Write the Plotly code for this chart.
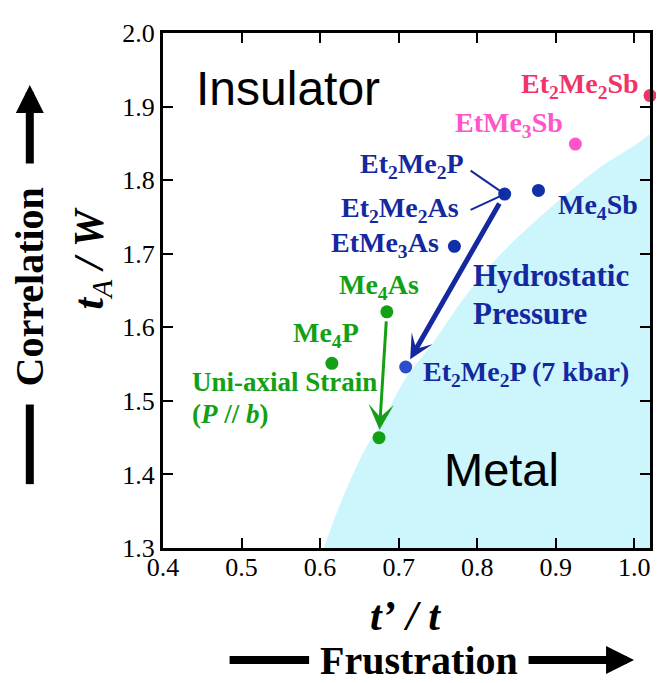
import plotly.graph_objects as go

# ---------------- data ----------------
# blue family (ambient pressure): Et2Me2P/Et2Me2As, Me4Sb, EtMe3As
blue_names = ["Et2Me2P / Et2Me2As", "Me4Sb", "EtMe3As"]
blue_x = [0.835, 0.878, 0.771]
blue_y = [1.781, 1.786, 1.710]

# Et2Me2P under 7 kbar hydrostatic pressure
press_names = ["Et2Me2P (7 kbar)"]
press_x = [0.709]
press_y = [1.546]

# green family: Me4As, Me4P, Me4As under uniaxial strain
green_names = ["Me4As", "Me4P", "Me4As (strain)"]
green_x = [0.685, 0.615, 0.675]
green_y = [1.621, 1.551, 1.450]

# Sb salts
pink_names = ["EtMe3Sb"]
pink_x = [0.925]
pink_y = [1.849]
red_names = ["Et2Me2Sb"]
red_x = [1.020]
red_y = [1.915]

# insulator / metal boundary
boundary_x = [0.605, 0.629, 0.658, 0.679, 0.709, 0.744, 0.785, 0.828, 0.871, 0.913, 0.956, 0.999, 1.020]
boundary_y = [1.300, 1.368, 1.435, 1.471, 1.530, 1.579, 1.642, 1.697, 1.741, 1.780, 1.817, 1.846, 1.862]

x_ticks = [0.4, 0.5, 0.6, 0.7, 0.8, 0.9, 1.0]
x_ticklabels = ["0.4", "0.5", "0.6", "0.7", "0.8", "0.9", "1.0"]
y_ticks = [1.3, 1.4, 1.5, 1.6, 1.7, 1.8, 1.9, 2.0]
y_ticklabels = ["1.3", "1.4", "1.5", "1.6", "1.7", "1.8", "1.9", "2.0"]

# ---------------- styles ----------------
BLUE = "#1428a0"
BLUE_PT = "#1030a8"
BLUE_LIGHT = "#2a4fc8"
GREEN = "#14a014"
PINK = "#ff55c8"
RED = "#f03468"
CYAN = "#cdf5fc"
SERIF = "Liberation Serif, Times New Roman, serif"
SANS = "Liberation Sans, Arial, sans-serif"
MS = 13

fig = go.Figure()

# metal region
fig.add_trace(go.Scatter(x=boundary_x, y=boundary_y, mode="lines",
                         line=dict(color=CYAN, width=0.5, shape="spline"),
                         fill="tozeroy", fillcolor=CYAN, hoverinfo="skip",
                         showlegend=False))

for xs, ys, col, names in [(blue_x, blue_y, BLUE_PT, blue_names),
                           (press_x, press_y, BLUE_LIGHT, press_names),
                           (green_x, green_y, GREEN, green_names),
                           (pink_x, pink_y, PINK, pink_names),
                           (red_x, red_y, RED, red_names)]:
    fig.add_trace(go.Scatter(x=xs, y=ys, mode="markers", text=names,
                             marker=dict(size=MS, color=col),
                             cliponaxis=False, showlegend=False))

annotations = []

def label(x, y, text, color, xanchor, size=28, family=SERIF, bold=True):
    t = f"<b>{text}</b>" if bold else text
    annotations.append(dict(x=x, y=y, xref="x", yref="y", text=t, showarrow=False,
                            xanchor=xanchor, yanchor="middle",
                            font=dict(family=family, size=size, color=color)))

label(1.0088, 1.928, "Et<sub>2</sub>Me<sub>2</sub>Sb", RED, "right")
label(0.9116, 1.876, "EtMe<sub>3</sub>Sb", PINK, "right")
label(0.7853, 1.820, "Et<sub>2</sub>Me<sub>2</sub>P", BLUE, "right")
label(0.7790, 1.760, "Et<sub>2</sub>Me<sub>2</sub>As", BLUE, "right")
label(0.7537, 1.712, "EtMe<sub>3</sub>As", BLUE, "right")
label(0.9000, 1.764, "Me<sub>4</sub>Sb", BLUE, "left")
label(0.6750, 1.656, "Me<sub>4</sub>As", GREEN, "center")
label(0.6070, 1.590, "Me<sub>4</sub>P", GREEN, "center")
label(0.4340, 1.526, "Uni-axial Strain", GREEN, "left", size=27)
label(0.4340, 1.482, "(<i>P</i> // <i>b</i>)", GREEN, "left", size=27)
label(0.7916, 1.670, "Hydrostatic", BLUE, "left", size=31)
label(0.7916, 1.619, "Pressure", BLUE, "left", size=31)
label(0.7280, 1.537, "Et<sub>2</sub>Me<sub>2</sub>P (7 kbar)", BLUE, "left")
label(0.4400, 1.924, "Insulator", "black", "left", size=48, family=SANS, bold=False)
label(0.7550, 1.407, "Metal", "black", "left", size=47, family=SANS, bold=False)

# hydrostatic pressure arrow
annotations.append(dict(x=press_x[0], y=press_y[0], ax=blue_x[0], ay=blue_y[0],
                        xref="x", yref="y", axref="x", ayref="y", text="",
                        showarrow=True, arrowhead=3, arrowwidth=5, arrowsize=0.8,
                        arrowcolor=BLUE, standoff=9, startstandoff=9))
# uniaxial strain arrow
annotations.append(dict(x=green_x[2], y=green_y[2], ax=green_x[0], ay=green_y[0],
                        xref="x", yref="y", axref="x", ayref="y", text="",
                        showarrow=True, arrowhead=3, arrowwidth=3, arrowsize=1.4,
                        arrowcolor=GREEN, standoff=8, startstandoff=8))

# axis titles
annotations.append(dict(x=-0.1449, y=0.563, xref="paper", yref="paper", showarrow=False,
                        textangle=-90, xanchor="center", yanchor="middle",
                        text="<b><i>t</i></b><sub><i>A</i></sub><b><i>&nbsp;/&nbsp;W</i></b>",
                        font=dict(family=SERIF, size=42, color="black")))
annotations.append(dict(x=0.498, y=-0.1330, xref="paper", yref="paper", showarrow=False,
                        xanchor="center", yanchor="middle",
                        text="<b><i>t’&nbsp;/&nbsp;t</i></b>",
                        font=dict(family=SERIF, size=42, color="black")))
annotations.append(dict(x=-0.2735, y=0.5076, xref="paper", yref="paper", showarrow=False,
                        textangle=-90, xanchor="center", yanchor="middle",
                        text="<b>Correlation</b>",
                        font=dict(family=SERIF, size=40, color="black")))
annotations.append(dict(x=0.5265, y=-0.2176, xref="paper", yref="paper", showarrow=False,
                        xanchor="center", yanchor="middle",
                        text="<b>Frustration</b>",
                        font=dict(family=SERIF, size=40, color="black")))
# up arrow (correlation)
annotations.append(dict(x=-0.2735, y=0.8989, xref="paper", yref="paper", text="",
                        showarrow=True, ax=0, ay=80, arrowhead=2, arrowwidth=8,
                        arrowsize=0.7, arrowcolor="black"))
# right arrow (frustration)
annotations.append(dict(x=0.9673, y=-0.2176, xref="paper", yref="paper", text="",
                        showarrow=True, ax=-107, ay=0, arrowhead=2, arrowwidth=8,
                        arrowsize=0.7, arrowcolor="black"))

shapes = [
    # leader lines to the Et2Me2P / Et2Me2As point
    dict(type="line", xref="x", yref="y", x0=0.7916, y0=1.813, x1=blue_x[0], y1=blue_y[0],
         line=dict(color=BLUE, width=2)),
    dict(type="line", xref="x", yref="y", x0=0.7916, y0=1.7596, x1=blue_x[0], y1=blue_y[0],
         line=dict(color=BLUE, width=2)),
    # bar below "Correlation"
    dict(type="line", xref="paper", yref="paper", x0=-0.2735, x1=-0.2735, y0=0.2786, y1=0.124,
         line=dict(color="black", width=8)),
    # bar left of "Frustration"
    dict(type="line", xref="paper", yref="paper", x0=0.1367, x1=0.30, y0=-0.2176, y1=-0.2176,
         line=dict(color="black", width=8)),
]

axis_common = dict(showgrid=False, zeroline=False, showline=True, linecolor="black",
                   linewidth=3, mirror="ticks", ticks="inside", ticklen=10, tickwidth=1.5,
                   tickcolor="black", tickfont=dict(family=SERIF, size=26, color="black"))

# the page body adds an 8 px margin, so the figure is 8 px smaller than the window
fig.update_layout(
    width=656, height=675,
    margin=dict(l=155, r=11, t=16, b=135),
    paper_bgcolor="white", plot_bgcolor="white",
    xaxis=dict(range=[0.4, 1.02], tickvals=x_ticks, ticktext=x_ticklabels,
               ticklabelstandoff=-6, **axis_common),
    yaxis=dict(range=[1.3, 2.0], tickvals=y_ticks, ticktext=y_ticklabels, **axis_common),
    annotations=annotations,
    shapes=shapes,
    showlegend=False,
)

fig.write_html("out.html")
